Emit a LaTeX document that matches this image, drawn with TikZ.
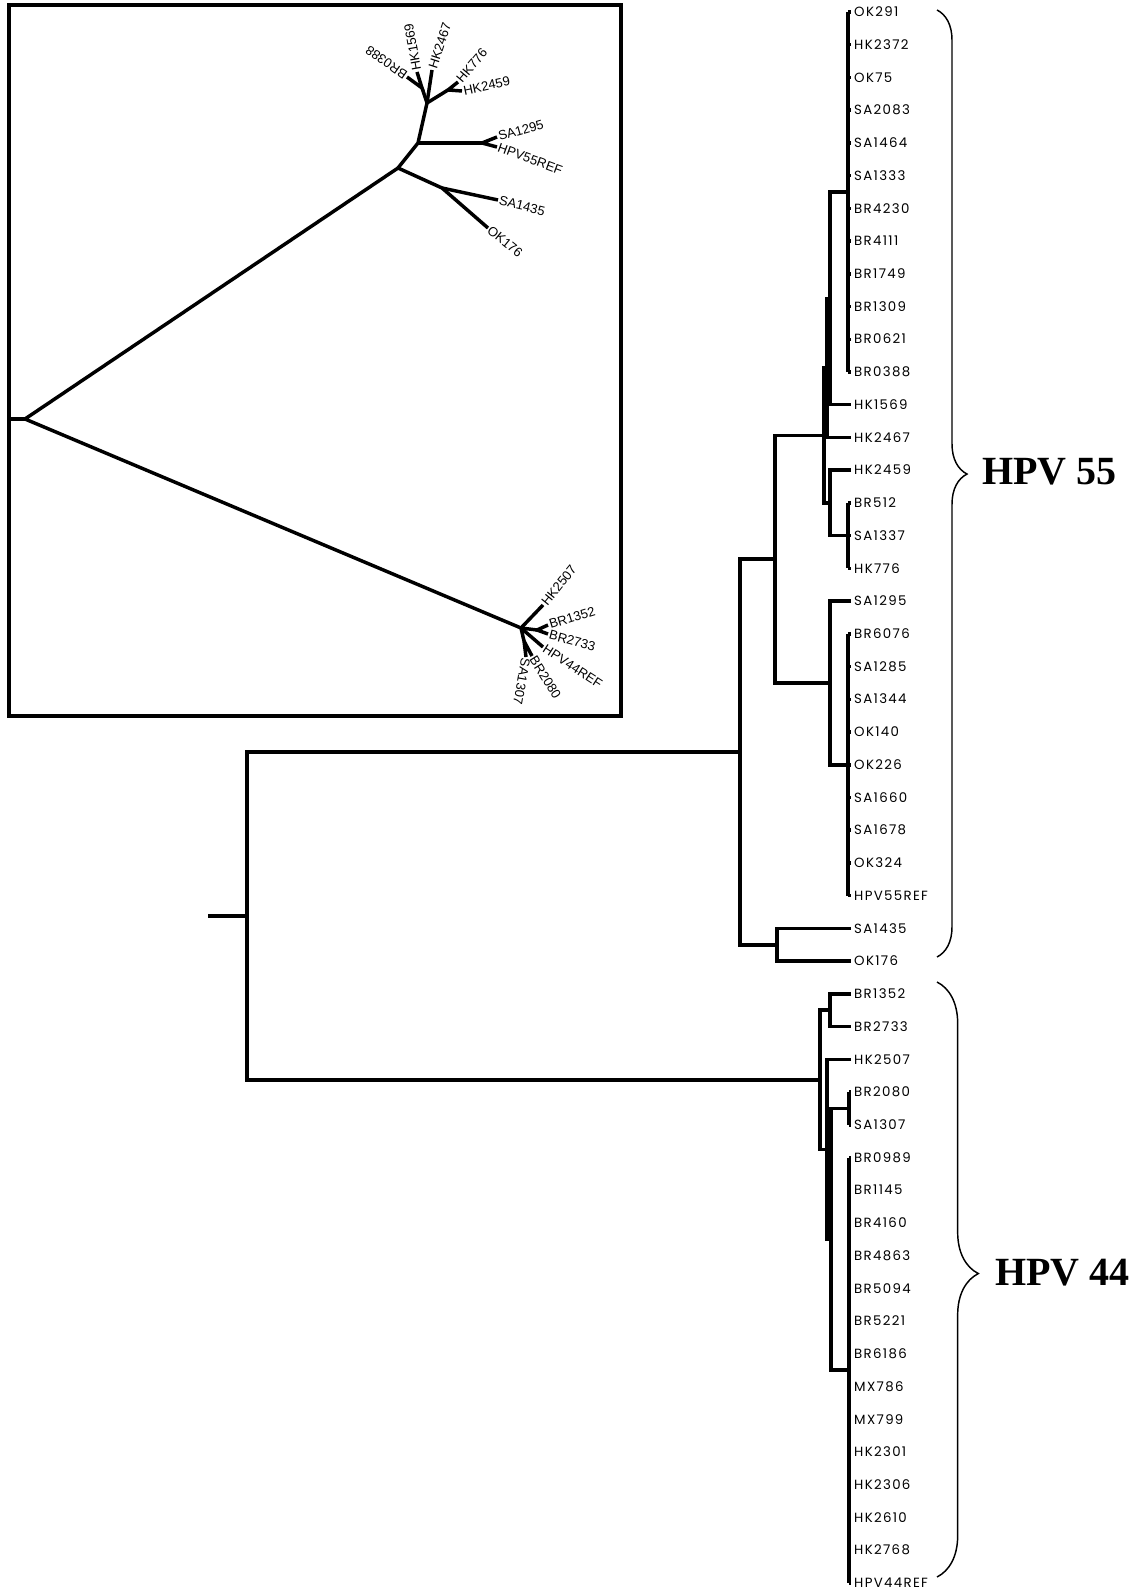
\documentclass[tikz,border=0pt]{standalone}
\usepackage{fontspec}
\usetikzlibrary{decorations.pathreplacing}
\newfontfamily\leaffont[LetterSpace=10]{Poppins}
\newfontfamily\insetfont{Liberation Sans}
\newfontfamily\cladefont{Liberation Serif}

\tikzset{
  branch/.style={line width=2.6pt},
  leaf/.style={anchor=west, inner sep=2.2pt, text height=7pt, text depth=0pt,
    font=\leaffont\fontsize{10}{11}\selectfont},
  ilab/.style={anchor=west, inner sep=1pt, font=\insetfont\fontsize{9.8}{11}\selectfont},
  clade/.style={anchor=west, inner sep=0pt, font=\cladefont\bfseries\fontsize{30}{36}\selectfont},
  cladebrace/.style={line width=1.1pt, decorate, decoration={brace, amplitude=#1, aspect=0.49}},
}

\begin{document}
\begin{tikzpicture}[x=0.75pt, y=-0.75pt]
    \useasboundingbox (0,0) rectangle (1133,1590);

    % leaves
    \foreach \lf [count=\i from 0] in {OK291,HK2372,OK75,SA2083,SA1464,SA1333,BR4230,BR4111,BR1749,BR1309,BR0621,BR0388,
        HK1569,HK2467,HK2459,BR512,SA1337,HK776,SA1295,BR6076,SA1285,SA1344,OK140,OK226,SA1660,SA1678,OK324,HPV55REF,
        SA1435,OK176,BR1352,BR2733,HK2507,BR2080,SA1307,BR0989,BR1145,BR4160,BR4863,BR5094,BR5221,BR6186,
        MX786,MX799,HK2301,HK2306,HK2610,HK2768,HPV44REF}
        \node[leaf] (\lf) at (851, {12+32.729*\i}) {\lf};

    % internal nodes
    \coordinate (p1) at (848,192);
    \coordinate (a) at (830,298.4);
    \coordinate (b) at (827,368);
    \coordinate (p2) at (848,535.7);
    \coordinate (c) at (830,503);
    \coordinate (d) at (824,435.5);
    \coordinate (p3) at (848,764.8);
    \coordinate (f) at (830,683);
    \coordinate (e) at (775,559.2);
    \coordinate (g) at (777,944.8);
    \coordinate (h) at (740,752);
    \coordinate (q1) at (830,1010.2);
    \coordinate (q2) at (849,1108.5);
    \coordinate (q3) at (849,1370.2);
    \coordinate (j) at (831,1239.4);
    \coordinate (k) at (827,1149.3);
    \coordinate (l) at (820,1079.8);
    \coordinate (root) at (247,915.9);
    \coordinate (stub) at (208,915.9);

    % polytomies
    \draw[branch] (p1 |- OK291.west) -- (p1 |- BR0388.west);
    \foreach \lf in {OK291,HK2372,OK75,SA2083,SA1464,SA1333,BR4230,BR4111,BR1749,BR1309,BR0621,BR0388}
        \draw[branch] (p1 |- \lf.west) -- (\lf.west);
    \draw[branch] (p2 |- BR512.west) -- (p2 |- HK776.west);
    \foreach \lf in {BR512,SA1337,HK776}
        \draw[branch] (p2 |- \lf.west) -- (\lf.west);
    \draw[branch] (p3 |- BR6076.west) -- (p3 |- HPV55REF.west);
    \foreach \lf in {BR6076,SA1285,SA1344,OK140,OK226,SA1660,SA1678,OK324,HPV55REF}
        \draw[branch] (p3 |- \lf.west) -- (\lf.west);
    \draw[branch] (q2 |- BR2080.west) -- (q2 |- SA1307.west);
    \foreach \lf in {BR2080,SA1307}
        \draw[branch] (q2 |- \lf.west) -- (\lf.west);
    \draw[branch] (q3 |- BR0989.west) -- (q3 |- HPV44REF.west);
    \foreach \lf in {BR0989,BR1145,BR4160,BR4863,BR5094,BR5221,BR6186,MX786,MX799,HK2301,HK2306,HK2610,HK2768,HPV44REF}
        \draw[branch] (q3 |- \lf.west) -- (\lf.west);

    % branches
    \draw[branch] (p1) -| (a) |- (HK1569.west);
    \draw[branch] (a) -| (b) |- (HK2467.west);
    \draw[branch] (HK2459.west) -| (c) |- (p2);
    \draw[branch] (b) -| (d) |- (c);
    \draw[branch] (SA1295.west) -| (f) |- (p3);
    \draw[branch] (d) -| (e) |- (f);
    \draw[branch] (SA1435.west) -| (g) |- (OK176.west);
    \draw[branch] (e) -| (h) |- (g);
    \draw[branch] (BR1352.west) -| (q1) |- (BR2733.west);
    \draw[branch] (q2) -| (j) |- (q3);
    \draw[branch] (HK2507.west) -| (k) |- (j);
    \draw[branch] (q1) -| (l) |- (k);
    \draw[branch] (h) -| (root) |- (l);
    \draw[branch] (stub) -- (root);

    % clades
    \draw[cladebrace=22.5pt] (937,10) -- (937,957);
    \node[clade] (hpv55) at (982,472) {HPV 55};
    \draw[cladebrace=31pt] (937,982) -- (937,1577);
    \node[clade] (hpv44) at (995,1273) {HPV 44};

    % inset
    \draw[line width=2.4pt] (9,5) rectangle (621,716);
    \coordinate (i-stub) at (9,419);
    \coordinate (i-root) at (25,419);
    \coordinate (i-n1) at (398,168);
    \coordinate (i-n2) at (418,143);
    \coordinate (i-n2b) at (482,143);
    \coordinate (i-n3) at (427,103);
    \coordinate (i-n4) at (422,88);
    \coordinate (i-n5) at (448,90);
    \coordinate (i-n6) at (442,188);
    \coordinate (i-n7) at (521,628);
    \coordinate (i-n8) at (537,630);
    \coordinate (i-n9) at (524,641);

    \node[ilab, rotate=145] (i-BR0388) at (407,77) {BR0388};
    \node[ilab, rotate=100] (i-HK1569) at (417,72) {HK1569};
    \node[ilab, rotate=72] (i-HK2467) at (432,70) {HK2467};
    \node[ilab, rotate=50] (i-HK776) at (458,82) {HK776};
    \node[ilab, rotate=12] (i-HK2459) at (462,91) {HK2459};
    \node[ilab, rotate=16] (i-SA1295) at (497,137) {SA1295};
    \node[ilab, rotate=-20] (i-HPV55REF) at (497,147) {HPV55REF};
    \node[ilab, rotate=-14] (i-SA1435) at (498,200) {SA1435};
    \node[ilab, rotate=-39] (i-OK176) at (488,228) {OK176};
    \node[ilab, rotate=51] (i-HK2507) at (543,605) {HK2507};
    \node[ilab, rotate=17] (i-BR1352) at (548,625) {BR1352};
    \node[ilab, rotate=-15] (i-BR2733) at (548,634) {BR2733};
    \node[ilab, rotate=-33] (i-HPV44REF) at (543,647) {HPV44REF};
    \node[ilab, rotate=-58] (i-BR2080) at (532,656) {BR2080};
    \node[ilab, rotate=-100] (i-SA1307) at (526,657) {SA1307};

    \draw[branch] (i-stub) -- (i-root);
    \draw[branch] (i-n1) -- (i-root) -- (i-n7);
    \draw[branch] (i-n1) -- (i-n2) -- (i-n3);
    \draw[branch] (i-n2) -- (i-n2b);
    \draw[branch] (i-SA1295.west) -- (i-n2b) -- (i-HPV55REF.west);
    \draw[branch] (i-n3) -- (i-n4);
    \draw[branch] (i-BR0388.west) -- (i-n4) -- (i-HK1569.west);
    \draw[branch] (i-n3) -- (i-HK2467.west);
    \draw[branch] (i-n3) -- (i-n5);
    \draw[branch] (i-HK776.west) -- (i-n5) -- (i-HK2459.west);
    \draw[branch] (i-n1) -- (i-n6) -- (i-OK176.west);
    \draw[branch] (i-n6) -- (i-SA1435.west);
    \draw[branch] (i-n7) -- (i-HK2507.west);
    \draw[branch] (i-n7) -- (i-n8);
    \draw[branch] (i-BR1352.west) -- (i-n8) -- (i-BR2733.west);
    \draw[branch] (i-n7) -- (i-HPV44REF.west);
    \draw[branch] (i-n7) -- (i-n9);
    \draw[branch] (i-BR2080.west) -- (i-n9) -- (i-SA1307.west);
\end{tikzpicture}
\end{document}
